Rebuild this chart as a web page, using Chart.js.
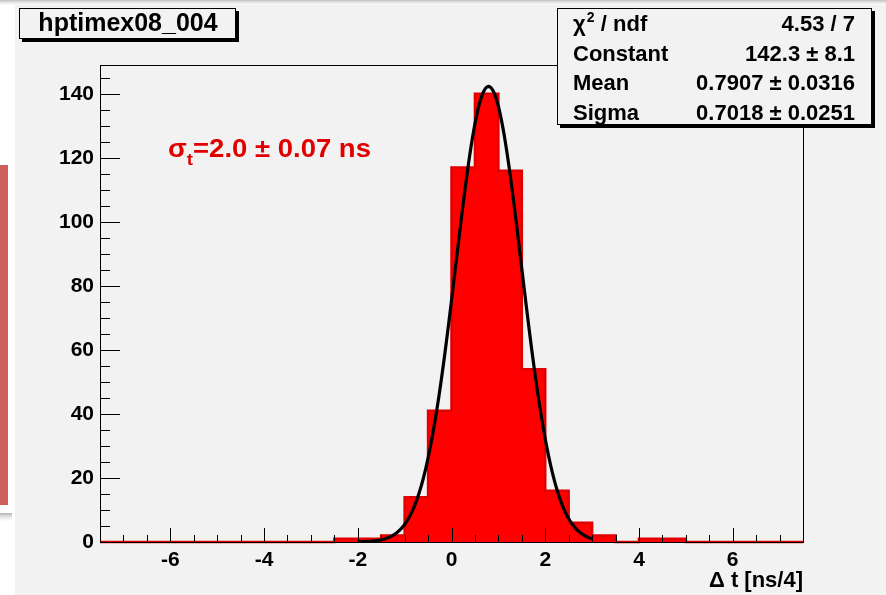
<!DOCTYPE html>
<html>
<head>
<meta charset="utf-8">
<script src="https://cdn.jsdelivr.net/npm/chart.js@4.4.0/dist/chart.umd.min.js"></script>
<style>
html, body { margin: 0; padding: 0; background: #ffffff; }
canvas { display: block; }
</style>
</head>
<body>
<canvas id="c" width="886" height="595"></canvas>
<script>
// Δt histogram: 30 bins of 0.5 from -7.5 to 7.5
const binLow = -7.5;
const binWidth = 0.5;
const counts = [0, 0, 0, 0, 0, 0, 0, 0, 0, 0,
                1, 1, 2, 14, 41, 117, 140, 116, 54, 16,
                6, 2, 0, 1, 1, 0, 0, 0, 0, 0];

// Gaussian fit result
const fitConstant = 142.3;
const fitMean = 0.7907;
const fitSigma = 0.7018;
const fitRange = [-2, 3];

// Statistics box rows
const statLabels = ['χ² / ndf', 'Constant', 'Mean', 'Sigma'];
const statValues = ['4.53 / 7', '142.3 ± 8.1', '0.7907 ± 0.0316', '0.7018 ± 0.0251'];

// Axes
const xTickValues = [-6, -4, -2, 0, 2, 4, 6];
const yTickValues = [0, 20, 40, 60, 80, 100, 120, 140];
const xRange = [-7.5, 7.5];
const yRange = [0, 149];
const xMinorStep = 0.5;
const yMinorStep = 5;

const histName = 'hptimex08_004';
const xTitle = 'Δ t [ns/4]';

const FONT = "'Liberation Sans', Arial, Helvetica, sans-serif";

// Step outline points at the bin edges
const histPoints = [];
for (let i = 0; i <= counts.length; i++) {
  histPoints.push({ x: binLow + i * binWidth, y: i < counts.length ? counts[i] : 0 });
}

// Fitted gaussian sampled over the fit range
const fitPoints = [];
const nFit = 200;
for (let i = 0; i <= nFit; i++) {
  const x = fitRange[0] + (fitRange[1] - fitRange[0]) * i / nFit;
  const z = (x - fitMean) / fitSigma;
  fitPoints.push({ x, y: fitConstant * Math.exp(-0.5 * z * z) });
}

const backdrop = {
  id: 'backdrop',
  beforeDraw(chart) {
    const ctx = chart.ctx;
    const W = chart.width, H = chart.height;
    ctx.save();
    ctx.fillStyle = '#ffffff';
    ctx.fillRect(0, 0, W, H);
    ctx.fillStyle = '#f2f2f2';
    ctx.fillRect(15, 5, W - 15, H - 5);
    const g = ctx.createLinearGradient(0, 0, 0, 6);
    g.addColorStop(0, '#bdbdbd');
    g.addColorStop(1, 'rgba(242,242,242,0)');
    ctx.fillStyle = g;
    ctx.fillRect(0, 0, W, 6);
    ctx.fillStyle = '#cd605d';
    ctx.fillRect(0, 165, 8, 340);
    const g2 = ctx.createLinearGradient(0, 513, 0, 523);
    g2.addColorStop(0, '#b4b4b4');
    g2.addColorStop(1, 'rgba(255,255,255,0)');
    ctx.fillStyle = g2;
    ctx.fillRect(0, 513, 12, 10);
    ctx.restore();
  }
};

const axisFrame = {
  id: 'axisFrame',
  afterDatasetsDraw(chart) {
    const ctx = chart.ctx;
    const { left, right, top, bottom } = chart.chartArea;
    const xs = chart.scales.x, ys = chart.scales.y;
    ctx.save();
    ctx.strokeStyle = '#000000';
    ctx.lineWidth = 1;
    ctx.strokeRect(Math.round(left) + 0.5, Math.round(top) + 0.5,
                   Math.round(right - left), Math.round(bottom - top));
    ctx.beginPath();
    const nx = Math.round((xRange[1] - xRange[0]) / xMinorStep);
    for (let i = 1; i < nx; i++) {
      const v = xRange[0] + i * xMinorStep;
      const major = xTickValues.includes(v);
      const px = Math.round(xs.getPixelForValue(v)) + 0.5;
      ctx.moveTo(px, bottom);
      ctx.lineTo(px, bottom - (major ? 14 : 7));
    }
    const ny = Math.floor((yRange[1] - yRange[0]) / yMinorStep);
    for (let i = 0; i <= ny; i++) {
      const v = yRange[0] + i * yMinorStep;
      const major = yTickValues.includes(v);
      const py = Math.round(ys.getPixelForValue(v)) + 0.5;
      ctx.moveTo(left, py);
      ctx.lineTo(left + (major ? 20 : 10), py);
    }
    ctx.stroke();
    ctx.restore();
  }
};

function shadowBox(ctx, x0, y0, x1, y1) {
  ctx.fillStyle = '#f2f2f2';
  ctx.fillRect(x0, y0, x1 - x0, y1 - y0);
  ctx.fillStyle = '#000000';
  ctx.fillRect(x1, y0 + 3, 3, y1 - y0);
  ctx.fillRect(x0 + 3, y1, x1 - x0, 3);
  ctx.strokeStyle = '#000000';
  ctx.lineWidth = 1;
  ctx.strokeRect(x0 + 0.5, y0 + 0.5, x1 - x0 - 1, y1 - y0 - 1);
}

const panels = {
  id: 'panels',
  afterDraw(chart) {
    const ctx = chart.ctx;
    ctx.save();
    // histogram name box
    shadowBox(ctx, 19, 8, 236, 39);
    ctx.fillStyle = '#000000';
    ctx.font = 'bold 25px ' + FONT;
    ctx.textAlign = 'center';
    ctx.textBaseline = 'alphabetic';
    ctx.fillText(histName, 128, 31);

    // fit statistics box
    shadowBox(ctx, 557, 8, 872, 125);
    ctx.font = 'bold 22px ' + FONT;
    const base = [31, 60.5, 90, 119.5];
    for (let i = 0; i < statLabels.length; i++) {
      ctx.textAlign = 'left';
      if (i === 0) {
        ctx.fillText('χ', 573, base[i]);
        const w = ctx.measureText('χ').width;
        ctx.font = 'bold 14px ' + FONT;
        ctx.fillText('2', 573 + w + 1, base[i] - 9);
        ctx.font = 'bold 22px ' + FONT;
        ctx.fillText(' / ndf', 573 + w + 9, base[i]);
      } else {
        ctx.fillText(statLabels[i], 573, base[i]);
      }
      ctx.textAlign = 'right';
      ctx.fillText(statValues[i], 855, base[i]);
    }

    // resolution label, slightly widened
    ctx.save();
    ctx.translate(168, 0);
    ctx.scale(1.1, 1);
    ctx.fillStyle = '#e00000';
    ctx.textAlign = 'left';
    ctx.font = 'bold 25px ' + FONT;
    ctx.fillText('σ', 0, 157);
    const ws = ctx.measureText('σ').width;
    ctx.font = 'bold 17px ' + FONT;
    ctx.fillText('t', ws, 165);
    const wt = ctx.measureText('t').width;
    ctx.font = 'bold 25px ' + FONT;
    ctx.fillText('=2.0 ± 0.07 ns', ws + wt, 157);
    ctx.restore();
    ctx.restore();
  }
};

const tickFont = { family: FONT, weight: 'bold', size: 21 };

new Chart(document.getElementById('c'), {
  type: 'line',
  data: {
    datasets: [
      {
        label: 'gaus',
        data: fitPoints,
        borderColor: '#000000',
        borderWidth: 3.2,
        pointRadius: 0,
        fill: false,
        tension: 0
      },
      {
        label: histName,
        data: histPoints,
        stepped: true,
        borderColor: '#e00000',
        borderWidth: 2.5,
        backgroundColor: '#ff0000',
        pointRadius: 0,
        fill: 'origin',
        clip: false
      }
    ]
  },
  options: {
    responsive: false,
    devicePixelRatio: 1,
    animation: false,
    layout: { padding: { left: 0, top: 65, right: 83, bottom: 0 } },
    plugins: { legend: { display: false }, tooltip: { enabled: false }, title: { display: false } },
    scales: {
      x: {
        type: 'linear',
        min: xRange[0],
        max: xRange[1],
        afterBuildTicks: s => { s.ticks = xTickValues.map(v => ({ value: v })); },
        afterFit: s => { s.height = 53; },
        grid: { display: false, drawTicks: false },
        border: { display: false },
        ticks: { font: tickFont, color: '#000000', padding: 6, maxRotation: 0, autoSkip: false },
        title: {
          display: true, text: xTitle, align: 'end', color: '#000000',
          font: { family: FONT, weight: 'bold', size: 22 }, padding: { top: 0, bottom: 1 }
        }
      },
      y: {
        type: 'linear',
        min: yRange[0],
        max: yRange[1],
        afterBuildTicks: s => { s.ticks = yTickValues.map(v => ({ value: v })); },
        afterFit: s => { s.width = 100; },
        grid: { display: false, drawTicks: false },
        border: { display: false },
        ticks: { font: tickFont, color: '#000000', padding: 6 }
      }
    }
  },
  plugins: [backdrop, axisFrame, panels]
});
</script>
</body>
</html>
